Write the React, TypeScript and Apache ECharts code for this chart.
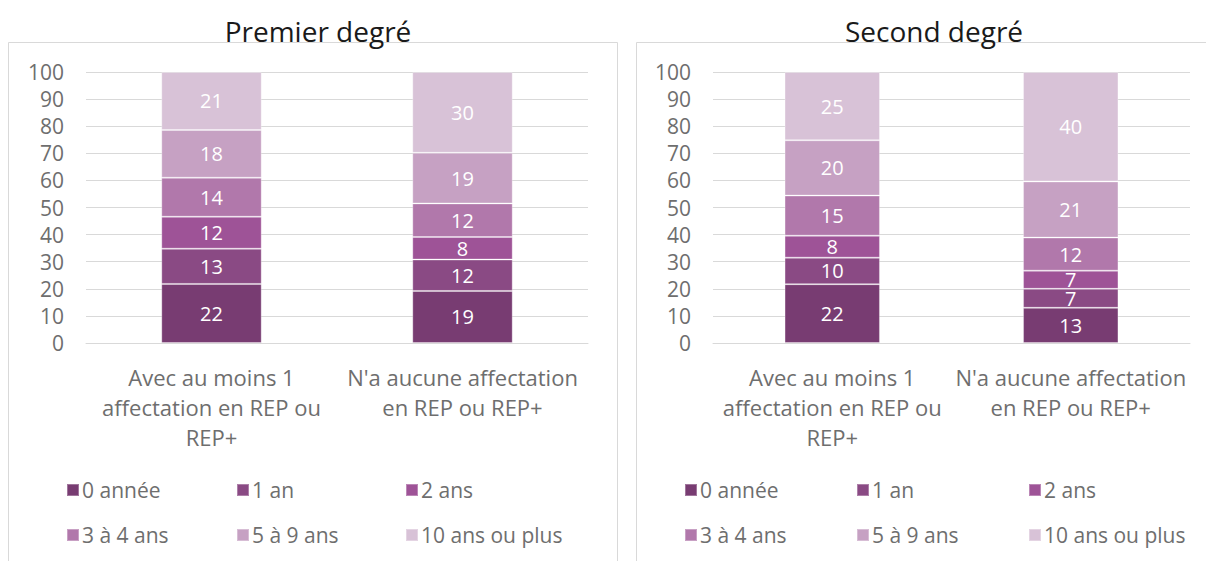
import React, { useEffect, useRef } from "react";
import * as echarts from "echarts";

const panelTitles = ["Premier degré", "Second degré"];
const categories = [
  "Avec au moins 1\naffectation en REP ou\nREP+",
  "N'a aucune affectation\nen REP ou REP+",
];
const seriesNames = ["0 année", "1 an", "2 ans", "3 à 4 ans", "5 à 9 ans", "10 ans ou plus"];
const seriesColors = ["#783C72", "#8A4A84", "#9E5397", "#B178AB", "#C6A1C3", "#D8C2D7"];

// Premier degré (values in %)
const premier0Annee = [21.8, 19.2];
const premier1An = [13.0, 11.6];
const premier2Ans = [11.8, 8.3];
const premier3a4Ans = [14.4, 12.4];
const premier5a9Ans = [17.6, 18.7];
const premier10Plus = [21.4, 29.8];

// Second degré (values in %)
const second0Annee = [21.7, 13.0];
const second1An = [9.8, 7.0];
const second2Ans = [8.1, 6.7];
const second3a4Ans = [14.8, 12.2];
const second5a9Ans = [20.4, 20.7];
const second10Plus = [25.2, 40.4];

const premierSeries = [premier0Annee, premier1An, premier2Ans, premier3a4Ans, premier5a9Ans, premier10Plus];
const secondSeries = [second0Annee, second1An, second2Ans, second3a4Ans, second5a9Ans, second10Plus];

const yMin = 0;
const yMax = 100;
const yInterval = 10;

const FONT = "'Open Sans', 'Noto Sans', sans-serif";
const GRAY = "#6e6e6e";
const LINE = "#d9d9d9";

export default function App() {
  const ref = useRef<HTMLDivElement>(null);

  useEffect(() => {
    if (!ref.current) return;
    const chart = echarts.init(ref.current, undefined, { renderer: "svg" });

    const panels = [
      { data: premierSeries, grid: { left: 86, right: 1206 - 588 }, titleX: 313, legendX: [66, 236, 405] },
      { data: secondSeries, grid: { left: 713, right: 1206 - 1190 }, titleX: 929, legendX: [684, 856, 1028] },
    ];

    const series: any[] = [];
    const legends: any[] = [];
    panels.forEach((p, pi) => {
      seriesNames.forEach((name, si) => {
        series.push({
          type: "bar",
          name,
          xAxisIndex: pi,
          yAxisIndex: pi,
          stack: "stack" + pi,
          barWidth: "40%",
          data: p.data[si],
          itemStyle: {
            color: seriesColors[si],
            borderColor: "rgba(255,255,255,0.3)",
            borderWidth: 1,
          },
          label: {
            show: true,
            position: "inside",
            color: "#ffffff",
            fontSize: 20,
            lineHeight: 16,
            fontFamily: FONT,
            formatter: (v: any) => String(Math.round(v.value)),
          },
        });
        legends.push({
          data: [name],
          left: p.legendX[si % 3],
          top: si < 3 ? 479 : 524,
          padding: 0,
          icon: "rect",
          itemWidth: 12,
          itemHeight: 12,
          itemGap: 4,
          selectedMode: false,
          textStyle: { fontSize: 21, color: GRAY, fontFamily: FONT, lineHeight: 22, padding: [0, 0, 0, -2] },
        });
      });
    });

    const option: any = {
      animation: false,
      title: panels.map((p, pi) => ({
        text: panelTitles[pi],
        left: p.titleX,
        top: 12,
        textAlign: "center",
        textStyle: { fontSize: 28, fontWeight: "normal", color: "#1a1a1a", fontFamily: FONT },
      })),
      graphic: [
        { type: "rect", shape: { x: 8.5, y: 42.5, width: 609, height: 600 }, style: { fill: "none", stroke: LINE, lineWidth: 1 }, silent: true },
        { type: "rect", shape: { x: 636.5, y: 42.5, width: 609, height: 600 }, style: { fill: "none", stroke: LINE, lineWidth: 1 }, silent: true },
      ],
      legend: legends,
      grid: panels.map((p) => ({ left: p.grid.left, right: p.grid.right, top: 72, bottom: 561 - 343 })),
      xAxis: panels.map((_, pi) => ({
        type: "category",
        gridIndex: pi,
        data: categories,
        axisTick: { show: false },
        axisLine: { lineStyle: { color: LINE, width: 1 } },
        axisLabel: { interval: 0, fontSize: 22, color: GRAY, fontFamily: FONT, lineHeight: 30, margin: 19 },
      })),
      yAxis: panels.map((_, pi) => ({
        type: "value",
        gridIndex: pi,
        min: yMin,
        max: yMax,
        interval: yInterval,
        axisLine: { show: false },
        axisTick: { show: false },
        axisLabel: { fontSize: 21, color: GRAY, fontFamily: FONT, margin: 22 },
        splitLine: { lineStyle: { color: LINE, width: 1 } },
      })),
      series,
    };

    chart.setOption(option);
    return () => chart.dispose();
  }, []);

  return (
    <div
      ref={ref}
      style={{ position: "fixed", left: 0, top: 0, width: 1206, height: 561, background: "#ffffff" }}
    />
  );
}
